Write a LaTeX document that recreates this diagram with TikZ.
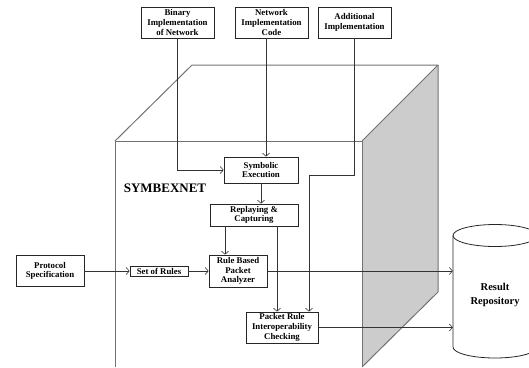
\documentclass[tikz,border=0pt]{standalone}
\usepackage{fontspec}
\setmainfont{Liberation Serif}
\usetikzlibrary{arrows.meta}
\tikzset{
  boxnode/.style={draw=black!85, line width=0.8pt, fill=white, inner sep=0pt, align=center,
    font=\bfseries\fontsize{8.8}{9.6}\selectfont},
  arr/.style={draw=black!80, line width=0.6pt, -{Straight Barb[length=3pt,width=7pt]}},
  plain/.style={draw=black!80, line width=0.6pt},
  cubeline/.style={draw=black!55, line width=1pt, line join=round},
}
\begin{document}
\begin{tikzpicture}[x=1pt,y=-1pt]
\useasboundingbox (0,0) rectangle (529,367);
% cube
\fill[black!20] (362,141) -- (438,65) -- (438,292) -- (362,367) -- cycle;
\draw[cubeline] (115,367) -- (115,141) -- (362,141) -- (362,367);
\draw[cubeline] (115,141) -- (192,65) -- (438,65) -- (362,141);
\draw[cubeline] (438,65) -- (438,292) -- (362,367);
\node[font=\bfseries\fontsize{13}{15}\selectfont, inner sep=0pt] (title) at (165,188) {SYMBEXNET};
% cylinder
\draw[line width=0.8pt, draw=black!85, fill=white] (453,235.5) -- (453,347)
  .. controls (453,353.1) and (471.8,358) .. (495,358)
  .. controls (518.2,358) and (537,353.1) .. (537,347) -- (537,235.5);
\draw[line width=0.8pt, draw=black!85] (495,235.5) ellipse [x radius=42, y radius=11];
\node[inner sep=0pt, minimum width=84pt, align=center, font=\bfseries\fontsize{10.5}{13.5}\selectfont] (repo) at (495,295) {Result\\Repository};
% boxes
\node[boxnode, minimum width=73pt, minimum height=31pt] (bin) at (177.5,22.5) {Binary\\Implementation\\of Network};
\node[boxnode, minimum width=73pt, minimum height=31pt] (net) at (271.5,22.5) {Network\\Implementation\\Code};
\node[boxnode, minimum width=73pt, minimum height=31pt] (add) at (354.5,22.5) {Additional\\Implementation};
\node[boxnode, minimum width=74pt, minimum height=26pt] (sym) at (261,170) {Symbolic\\Execution};
\node[boxnode, minimum width=88pt, minimum height=22pt] (rep) at (254,215) {Replaying \&\\Capturing};
\node[boxnode, minimum width=58pt, minimum height=32pt] (rba) at (238,271) {Rule Based\\Packet\\Analyzer};
\node[boxnode, minimum width=72pt, minimum height=31pt] (prc) at (282,327.5) {Packet Rule\\Interoperability\\Checking};
\node[boxnode, minimum width=68pt, minimum height=31pt] (pro) at (50,271) {Protocol\\Specification};
\node[boxnode, minimum width=58pt, minimum height=10pt] (sor) at (159,271) {Set of Rules};
% helper coordinates
\coordinate (nx) at (266,0);
\coordinate (ab1) at (354.5,175);
\coordinate (ab2) at (309,175);
\coordinate (rx1) at (225,0);
\coordinate (rx2) at (277,0);
% connectors
\draw[arr] (bin.south) |- (sym.west);
\draw[arr] (net.south -| nx) -- (sym.north -| nx);
\draw[arr] (add.south) -- (ab1) -- (ab2) -- (prc.north -| ab2);
\draw[arr] (sym.south) -- (sym.south |- rep.north);
\draw[arr] (rep.south -| rx1) -- (rba.north -| rx1);
\draw[arr] (rep.south -| rx2) -- (prc.north -| rx2);
\draw[arr] (pro.east) -- (sor.west);
\draw[arr] (sor.east) -- (rba.west);
\draw[arr] (rba.east) -- (repo.west |- rba.east);
\draw[arr] (prc.east) -- (repo.west |- prc.east);
\end{tikzpicture}
\end{document}
